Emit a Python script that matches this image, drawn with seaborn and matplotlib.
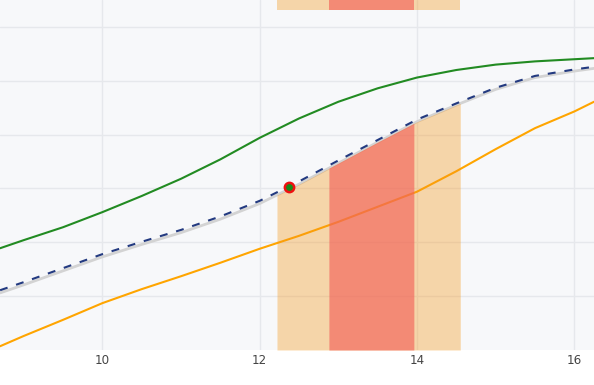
import numpy as np
import pandas as pd
import matplotlib
matplotlib.use("Agg")
import matplotlib.pyplot as plt
import seaborn as sns

# values
x = [8.7, 9.0, 9.5, 10.0, 10.5, 11.0, 11.5, 12.0, 12.5, 13.0, 13.5, 14.0, 14.5, 15.0, 15.5, 16.0, 16.25]
upper = [1.89, 2.04, 2.28, 2.56, 2.86, 3.18, 3.54, 3.94, 4.30, 4.61, 4.86, 5.06, 5.20, 5.30, 5.36, 5.40, 5.42]
median = [1.06, 1.21, 1.47, 1.73, 1.96, 2.18, 2.43, 2.72, 3.08, 3.47, 3.86, 4.24, 4.55, 4.84, 5.06, 5.18, 5.23]
fitted = [1.11, 1.26, 1.52, 1.78, 2.01, 2.23, 2.48, 2.77, 3.13, 3.52, 3.90, 4.28, 4.58, 4.87, 5.09, 5.21, 5.26]
lower = [0.07, 0.26, 0.56, 0.87, 1.13, 1.37, 1.62, 1.88, 2.12, 2.38, 2.66, 2.94, 3.32, 3.73, 4.12, 4.43, 4.61]

point_x = [12.37]
point_y = [3.03]

outer_band = (12.22, 14.55)
inner_band = (12.88, 13.96)
strip_bottom = 6.31

df = pd.DataFrame({"x": x, "upper": upper, "median": median, "fitted": fitted, "lower": lower})

sns.set_theme(style="whitegrid")
plt.rcParams["font.family"] = ["DejaVu Sans"]

fig = plt.figure(figsize=(5.94, 3.85), dpi=100)
ax = fig.add_axes([0, 35 / 385, 1, 350 / 385])
ax.set_facecolor("#f7f8fa")

sns.lineplot(data=df, x="x", y="upper", ax=ax, color="#228b22", lw=1.5, zorder=2)
sns.lineplot(data=df, x="x", y="median", ax=ax, color="#d3d3d3", lw=2.0, zorder=2)
sns.lineplot(data=df, x="x", y="lower", ax=ax, color="#ffa500", lw=1.5, zorder=2)
ax.plot(df["x"], df["fitted"], color="#233a80", lw=1.5, dashes=(3.8, 4.3), zorder=3)

# shaded bands, drawn over the lines
for (lo, hi), col, a in [(outer_band, "#f4971a", 0.36), (inner_band, "#f2625a", 0.65)]:
    xs = np.linspace(lo, hi, 60)
    ys = np.interp(xs, df["x"], df["median"])
    ax.fill_between(xs, 0, ys, color=col, alpha=a, lw=0, zorder=4)
    ax.fill_between([lo, hi], strip_bottom, 6.5, color=col, alpha=a, lw=0, zorder=4)

sns.scatterplot(x=point_x, y=point_y, ax=ax, color="#1a8a1a", edgecolor="#ee1111",
                linewidth=1.8, s=45, zorder=6)

ax.set_xlim(8.699, 16.25)
ax.set_ylim(0, 6.5)
ax.set_xticks([10, 12, 14, 16])
ax.set_yticks([1, 2, 3, 4, 5, 6])
ax.set_yticklabels([])
ax.grid(True, color="#e6e8ec", lw=1)
ax.tick_params(axis="x", length=0, pad=3, labelsize=8.6, labelcolor="#444444")
ax.tick_params(axis="y", length=0)
ax.set_xlabel("")
ax.set_ylabel("")
for s in ax.spines.values():
    s.set_visible(False)

fig.savefig("out.png", dpi=100)
